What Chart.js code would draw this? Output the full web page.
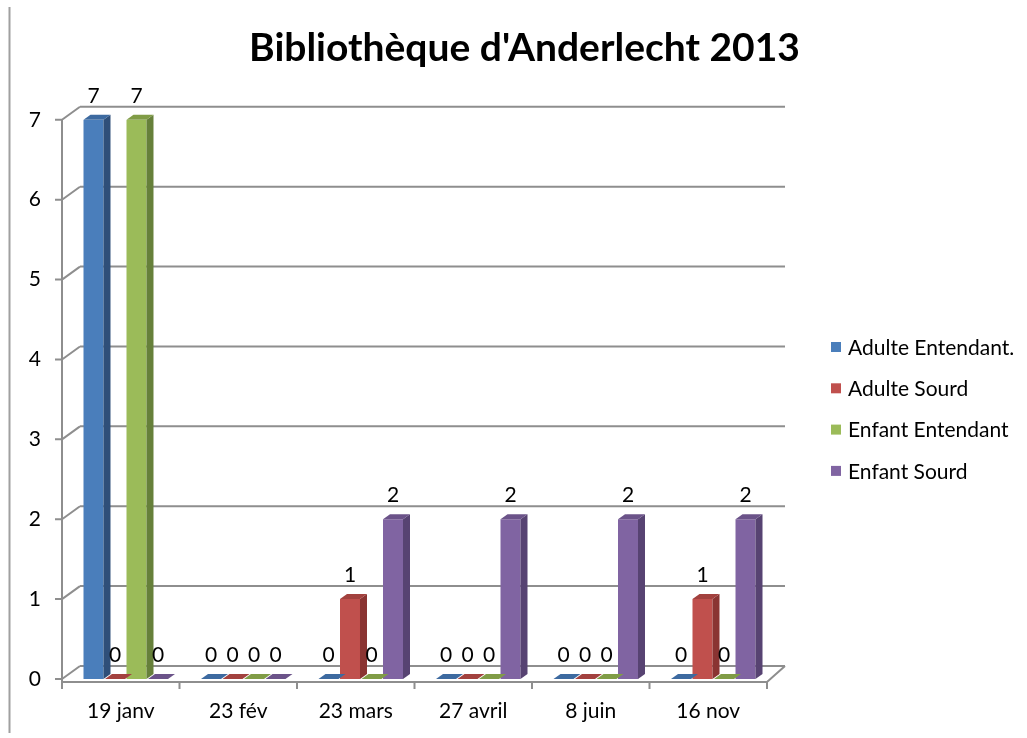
<!DOCTYPE html>
<html>
<head>
<meta charset="utf-8">
<script src="https://cdn.jsdelivr.net/npm/chart.js@4"></script>
<style>
  html, body { margin: 0; padding: 0; background: #fff; }
  canvas { display: block; }
</style>
</head>
<body>
<canvas id="chart" width="1027" height="738"></canvas>
<script>
const categories = ["19 janv", "23 fév", "23 mars", "27 avril", "8 juin", "16 nov"];
const adulteEntendant = [7, 0, 0, 0, 0, 0];
const adulteSourd = [0, 0, 1, 0, 0, 1];
const enfantEntendant = [7, 0, 0, 0, 0, 0];
const enfantSourd = [0, 0, 2, 2, 2, 2];
const yTicks = [0, 1, 2, 3, 4, 5, 6, 7];

const FONT = '"Lato", "Open Sans", sans-serif';
const TEXT_SIZE = 21;

// front, top, side colours for the 3d bars
const shades = [
  ["#4a7ebb", "#3d6aa0", "#2f4f79"],
  ["#c0504d", "#a2413e", "#8a3432"],
  ["#9bbb59", "#809c46", "#66803a"],
  ["#8064a2", "#6b5389", "#574372"],
];

const frame3d = {
  id: "frame3d",
  beforeDatasetsDraw(chart) {
    const { ctx, chartArea, scales } = chart;
    const x = scales.x, y = scales.y;
    const step = x.getPixelForValue(1) - x.getPixelForValue(0);
    const fx = chartArea.left - 5;
    const fxr = fx + step * categories.length;
    const DX = 18, DY = 13;
    const y0 = y.getPixelForValue(0);

    ctx.save();
    ctx.strokeStyle = "#8e8e8e";
    ctx.lineWidth = 2;
    ctx.beginPath();
    yTicks.forEach((v) => {
      const py = y.getPixelForValue(v);
      ctx.moveTo(fx + DX, py - DY);
      ctx.lineTo(fxr + DX, py - DY);
      ctx.moveTo(fx, py);
      ctx.lineTo(fx + DX, py - DY);
      ctx.moveTo(fx - 7, py);
      ctx.lineTo(fx, py);
    });
    // front value axis
    ctx.moveTo(fx, y.getPixelForValue(yTicks[yTicks.length - 1]));
    ctx.lineTo(fx, y0 + 4);
    // floor
    ctx.moveTo(fx, y0 + 3);
    ctx.lineTo(fxr, y0 + 3);
    ctx.lineTo(fxr + DX, y0 - DY);
    for (let i = 0; i <= categories.length; i++) {
      const px = fx + i * step;
      ctx.moveTo(px, y0 + 3);
      ctx.lineTo(px, y0 + 10);
    }
    ctx.stroke();

    // outer frame line on the left
    ctx.strokeStyle = "#a0a0a0";
    ctx.beginPath();
    ctx.moveTo(9.5, 7);
    ctx.lineTo(9.5, 733);
    ctx.stroke();
    ctx.restore();
  },
  afterDatasetsDraw(chart) {
    const { ctx } = chart;
    const bx = 7, by = 5;
    ctx.save();
    chart.data.datasets.forEach((ds, di) => {
      const meta = chart.getDatasetMeta(di);
      meta.data.forEach((el) => {
        const { x, y, base, width } = el.getProps(["x", "y", "base", "width"], true);
        const l = x - width / 2, r = x + width / 2;
        ctx.fillStyle = shades[di][2];
        ctx.beginPath();
        ctx.moveTo(r, y);
        ctx.lineTo(r + bx, y - by);
        ctx.lineTo(r + bx, base - by);
        ctx.lineTo(r, base);
        ctx.closePath();
        ctx.fill();
        ctx.fillStyle = shades[di][1];
        ctx.beginPath();
        ctx.moveTo(l, y);
        ctx.lineTo(l + bx, y - by);
        ctx.lineTo(r + bx, y - by);
        ctx.lineTo(r, y);
        ctx.closePath();
        ctx.fill();
      });
    });
    ctx.restore();
  },
  afterDraw(chart) {
    const { ctx, chartArea } = chart;
    ctx.save();
    ctx.font = TEXT_SIZE + "px " + FONT;
    ctx.fillStyle = "#000";
    ctx.textAlign = "center";
    ctx.textBaseline = "middle";
    chart.data.datasets.forEach((ds, di) => {
      chart.getDatasetMeta(di).data.forEach((el, i) => {
        const { x, y } = el.getProps(["x", "y"], true);
        ctx.fillText(String(ds.data[i]), x, y - 24);
      });
    });

    // legend
    const lx = chartArea.right + 59;
    const ly = 347;
    ctx.textAlign = "left";
    chart.data.datasets.forEach((ds, di) => {
      const cy = ly + di * 41.3;
      ctx.fillStyle = ds.backgroundColor;
      ctx.fillRect(lx, cy - 5, 10, 10);
      ctx.fillStyle = "#000";
      ctx.fillText(ds.label, lx + 17, cy + 1);
    });
    ctx.restore();
  },
};

new Chart(document.getElementById("chart"), {
  type: "bar",
  data: {
    labels: categories,
    datasets: [
      { label: "Adulte Entendant.", data: adulteEntendant, backgroundColor: shades[0][0] },
      { label: "Adulte Sourd", data: adulteSourd, backgroundColor: shades[1][0] },
      { label: "Enfant Entendant", data: enfantEntendant, backgroundColor: shades[2][0] },
      { label: "Enfant Sourd", data: enfantSourd, backgroundColor: shades[3][0] },
    ],
  },
  options: {
    responsive: false,
    animation: false,
    devicePixelRatio: 1,
    layout: { padding: { left: 22, right: 0, top: 0, bottom: 0 } },
    datasets: {
      bar: { categoryPercentage: 0.732, barPercentage: 0.93, borderWidth: 0 },
    },
    plugins: {
      legend: { display: false },
      tooltip: { enabled: false },
      title: {
        display: true,
        text: "Bibliothèque d'Anderlecht 2013",
        color: "#000",
        font: { family: FONT, size: 39, weight: "bold", lineHeight: 1.2 },
        padding: { top: 25, bottom: 48 },
      },
    },
    scales: {
      x: {
        grid: { display: false, drawTicks: false },
        border: { display: false },
        ticks: {
          color: "#000",
          font: { family: FONT, size: TEXT_SIZE },
          padding: 20,
          labelOffset: -5,
          maxRotation: 0,
        },
        afterFit(scale) { scale.height = 59; },
      },
      y: {
        min: 0,
        max: 7,
        grid: { display: false, drawTicks: false },
        border: { display: false },
        ticks: {
          stepSize: 1,
          color: "#000",
          font: { family: FONT, size: TEXT_SIZE },
          padding: 26,
        },
        afterFit(scale) { scale.width = 45; },
      },
      spacer: {
        position: "right",
        grid: { display: false, drawTicks: false },
        border: { display: false },
        ticks: { display: false },
        afterFit(scale) { scale.width = 255; },
      },
    },
  },
  plugins: [frame3d],
});
</script>
</body>
</html>
